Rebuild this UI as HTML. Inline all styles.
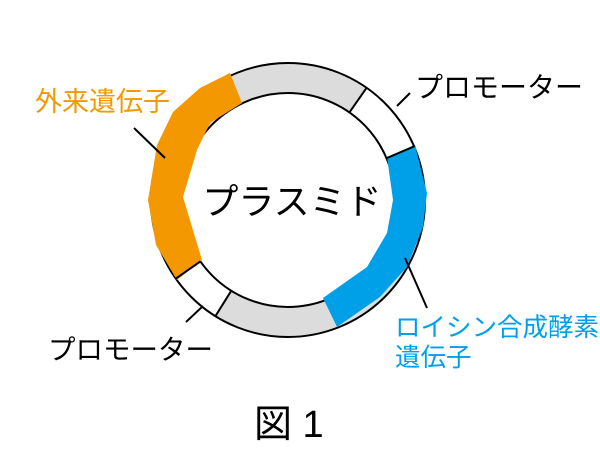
<!DOCTYPE html>
<html><head><meta charset="utf-8"><style>
html,body{margin:0;padding:0;background:#fff;}
svg{display:block;}
text{font-family:"Liberation Sans","Noto Sans CJK JP",sans-serif;}
</style></head><body>
<svg width="600" height="465" viewBox="0 0 600 465" xmlns="http://www.w3.org/2000/svg">
<circle cx="288" cy="200" r="122" fill="none" stroke="#dcdcdc" stroke-width="30"/>
<path d="M366.6,87.8 A137,137 0 0 1 414.2,146.5 L386.5,158.2 A107,107 0 0 0 349.4,112.4 Z" fill="#fff"/>
<path d="M175.8,278.6 A137,137 0 0 0 215.4,316.2 L231.3,290.7 A107,107 0 0 1 200.4,261.4 Z" fill="#fff"/>
<circle cx="288" cy="200" r="137" fill="none" stroke="#000" stroke-width="2"/>
<circle cx="288" cy="200" r="107" fill="none" stroke="#000" stroke-width="2"/>
<polygon points="230,73 200,88 173,112 157,145 148,200 156,245 177,280 202,260 183,197 197,150 210,123 242,103" fill="#f39800"/>
<polygon points="415,145 427,193 423,227 407,267 380,297 337,327 323,298 367,267 387,233 393,200 387,157" fill="#00a0e9"/>
<g stroke="#000" stroke-width="2" fill="none">
<line x1="366.6" y1="87.8" x2="349.4" y2="112.4"/>
<line x1="415" y1="146" x2="386.5" y2="158.2"/>
<line x1="175.8" y1="278.6" x2="200.4" y2="261.4"/>
<line x1="215.4" y1="316.2" x2="231.3" y2="290.7"/>
<line x1="134" y1="128" x2="165" y2="158"/>
<line x1="397" y1="106" x2="410" y2="93"/>
<line x1="186" y1="322" x2="203" y2="306"/>
<line x1="405" y1="258" x2="427" y2="308"/>
</g>
<text x="35" y="111" font-size="27" fill="#f39800">外来遺伝子</text>
<text x="415" y="97" font-size="28" fill="#000">プロモーター</text>
<text x="48" y="359" font-size="27.5" fill="#000">プロモーター</text>
<text x="395" y="336" font-size="25.5" fill="#00a0e9">ロイシン合成酵素</text>
<text x="395" y="366" font-size="25.5" fill="#00a0e9">遺伝子</text>
<text x="292" y="214" font-size="36" text-anchor="middle" fill="#000">プラスミド</text>
<text x="254" y="437" font-size="38" fill="#000">図 1</text>
</svg>
</body></html>
